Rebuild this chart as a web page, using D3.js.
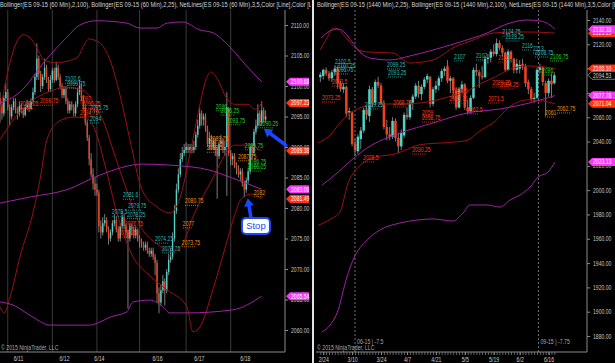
<!DOCTYPE html>
<html>
<head>
<meta charset="utf-8">
<script src="https://cdn.jsdelivr.net/npm/d3@7"></script>
<style>
  body { margin: 0; background: #000; }
  svg { display: block; font-family: "Liberation Sans", Arial, sans-serif; }
</style>
</head>
<body>
<svg width="615" height="363"></svg>
<script>
// ---- left chart: ES 09-15, 60 min bars ----
var leftOpen = [2098,2097,2095.5,2098,2099,2096.5,2095,2096.5,2097.5,2096,
  2095.5,2096.75,2096,2095.25,2096.5,2097,2096.25,2097.5,2099,2101.5,
  2104.5,2102,2100,2101.5,2103,2101,2099.5,2101,2102.5,2101,
  2103,2101.5,2100,2098.5,2099.5,2097.5,2096,2097,2096.5,2095.5,
  2097,2099,2100,2098,2096.5,2094,2091.5,2088,2085.5,2084,
  2083,2082.5,2077,2076,2077.5,2078,2076.5,2075,2076,2077.5,
  2078,2076.5,2075,2077,2078.5,2077,2076,2075,2077,2076.5,
  2075.5,2076.5,2075,2074.5,2074,2073.5,2074,2073,2072.5,2073,
  2072,2071,2066,2064.5,2066.5,2068,2066.5,2069.5,2071.5,2072,
  2075,2079.5,2083,2085.5,2088,2089,2089.5,2090,2089.5,2090,
  2089.5,2090,2092,2093.5,2095.5,2094.5,2095,2093,2090.5,2091.5,
  2090,2091,2089.5,2088.5,2090.5,2091,2089.5,2090,2096.5,2089,
  2088,2088.5,2087,2086.5,2085.5,2086,2084,2083,2084.5,2086,
  2090,2089,2092.5,2093.5,2095.5,2094,2096,2094.5];
var leftHigh = [2099,2097.5,2098.5,2100.5,2099.5,2097,2097,2098,2098,2096.5,
  2097.5,2097.25,2096.5,2097,2097.75,2097.5,2098,2099.75,2102,2107,
  2105,2102.5,2102,2104.5,2103.5,2101.5,2101.75,2103,2103,2104,
  2103.5,2102,2100.5,2100,2100,2098,2097.5,2097.5,2097,2097.5,
  2099.5,2101,2100.5,2098.5,2097,2094.5,2092,2089,2086.5,2085,
  2084,2083,2078,2078.5,2079,2078.5,2077,2076.5,2078,2079,
  2078.5,2077,2077.5,2079.5,2079,2077.5,2076.5,2077.5,2077.5,2077,
  2077,2076.5,2075.5,2075,2074.5,2074.5,2074.5,2073.5,2073.5,2073.5,
  2072.5,2071.5,2067,2067.5,2069,2068.5,2070,2072.5,2073.5,2076,
  2080.5,2084,2086.5,2089,2090,2090.5,2090.75,2090.5,2090.5,2090.5,
  2091,2092.5,2094.5,2096.5,2096,2095.5,2095.5,2093.5,2092.5,2092,
  2091.5,2091.5,2090,2091,2092,2091.5,2091,2099,2096.5,2089.5,
  2089,2089,2087.5,2087,2086.5,2086.5,2084.5,2085,2086.5,2090.5,
  2090.5,2093,2094.5,2097,2096,2097.5,2096.5,2096];
var leftLow = [2094,2094.5,2095,2097.5,2096,2093.5,2094.5,2096,2095.5,2094.5,
  2095,2095.5,2094.75,2095,2096,2095.75,2096,2097,2098.5,2101,
  2101,2099,2099.5,2101,2100.5,2099,2099,2100.5,2100.5,2100.75,
  2101,2099.5,2098,2098,2097,2095.5,2095.5,2096,2095,2095,
  2096.5,2098.5,2097.5,2096,2093.5,2091,2087,2085,2083,2082,
  2082,2076,2075,2075.5,2077,2076,2074,2074.5,2075.5,2077,
  2076,2074.5,2074.5,2076.5,2076.5,2075,2063.5,2074.5,2075.5,2075,
  2075,2074.5,2073.5,2073.5,2073,2073,2072.5,2072,2072,2071.5,
  2069,2064.5,2062.75,2064,2066,2064,2066,2069,2071,2071.5,
  2074.5,2079,2082.5,2085,2087.5,2088.5,2089,2089,2089,2089,
  2089,2089.5,2091.5,2093,2093.5,2093.5,2092.5,2090,2089.5,2089.5,
  2089.5,2088.5,2081.5,2088,2090,2089,2088.5,2082,2088.5,2087,
  2087,2086.5,2085.5,2085,2084.5,2083.5,2081.75,2082.5,2084,2085.5,
  2088,2088.5,2092,2093,2093.5,2093.5,2094,2094];
var leftClose = [2097,2095.5,2098,2099,2096.5,2095,2096.5,2097.5,2096,2095.5,
  2096.75,2096,2095.25,2096.5,2097,2096.25,2097.5,2099,2101.5,2104.5,
  2102,2100,2101.5,2103,2101,2099.5,2101,2102.5,2101,2103,
  2101.5,2100,2098.5,2099.5,2097.5,2096,2097,2096.5,2095.5,2097,
  2099,2100,2098,2096.5,2094,2091.5,2088,2085.5,2084,2083,
  2082.5,2077,2076,2077.5,2078,2076.5,2075,2076,2077.5,2078,
  2076.5,2075,2077,2078.5,2077,2076,2075,2077,2076.5,2075.5,
  2076.5,2075,2074.5,2074,2073.5,2074,2073,2072.5,2073,2072,
  2071,2066,2064.5,2066.5,2068,2066.5,2069.5,2071.5,2072,2075,
  2079.5,2083,2085.5,2088,2089,2089.5,2090,2089.5,2090,2089.5,
  2090,2092,2093.5,2095.5,2094.5,2095,2093,2090.5,2091.5,2090,
  2091,2089.5,2088.5,2090.5,2091,2089.5,2090,2096.5,2089,2088,
  2088.5,2087,2086.5,2085.5,2086,2084,2083,2084.5,2086,2090,
  2089,2092.5,2093.5,2095.5,2094,2096,2094.5,2095];

var leftSessions = [4, 27, 50, 72, 96, 119];
var leftDateTicks = [9.3, 33, 51, 81, 102.6, 126.3];
var leftDateLabels = ["6/11", "6/12", "6/14", "6/16", "6/17", "6/18"];
var leftPriceTicks = [2060, 2065, 2070, 2075, 2080, 2085, 2090, 2095, 2100, 2105, 2110];

// Bollinger(2,100) – purple
var leftSlowUpper = [[0,2097.2],[10.3,2099],[23.2,2104.1],[34.5,2108],[41.2,2110],[50,2110.7],[65.5,2110.3],[72.2,2109.5],[81,2109.5],[86,2110.3],[94.3,2110.5],[103,2109.2],[110,2108.7],[120,2105.9],[126.3,2103.6],[135,2100.68]];
var leftSlowMid = [[0,2080.8],[15.5,2081.8],[34.5,2083],[51.5,2085.4],[73.7,2087.2],[89.2,2087],[108.2,2086.2],[120,2084.9],[135,2083.06]];
var leftSlowLower = [[0,2064.6],[6.7,2064.1],[17,2062.1],[25.8,2060.8],[46.4,2060.8],[51.5,2061.3],[56.7,2062.1],[65.5,2063],[68.6,2064.6],[77.3,2064.9],[84,2063.8],[87.6,2062.8],[96.4,2062.8],[120,2063.3],[135,2065.54]];
// Bollinger(2,25) – dark red
var leftFastUpper = [[0,2095.7],[2.6,2100.2],[5.2,2103.9],[8.3,2107],[11.9,2108.4],[15.5,2107.9],[19.1,2106.2],[22.7,2104.3],[28.4,2103.8],[35,2104.1],[40.2,2104.8],[43.3,2106.7],[45.9,2107.7],[49,2107.5],[52.1,2106.9],[56.7,2104.3],[61.9,2098.5],[67,2091.2],[73.2,2083],[80.9,2080.2],[87.6,2079.2],[92.8,2081.6],[97.9,2088.7],[103.1,2096.9],[106.2,2101],[108.8,2102.3],[112.4,2101],[116.5,2098.2],[121.1,2097],[127.8,2097],[131.4,2096.2],[135,2097.23]];
var leftFastMid = [[0,2091.2],[7.7,2094.8],[17,2097.7],[27.3,2099.3],[34.5,2099.8],[42.8,2099.3],[49,2096.9],[54.1,2093.6],[58.3,2089.5],[64.4,2083.8],[72.2,2077.2],[82,2073.9],[88.7,2072.8],[93.8,2073.9],[100,2078.9],[109.8,2084.9],[116,2088.7],[121.1,2090.3],[127.8,2090.3],[135,2089.38]];
var leftFastLower = [[0,2063.8],[2.1,2062.8],[5.2,2065.4],[10.3,2072],[17,2079.2],[20.6,2084.6],[24.2,2091.2],[29.9,2094.1],[37.1,2094.9],[43.8,2094.8],[49,2092.8],[54.1,2087.1],[60.3,2079.2],[68.6,2072],[75.8,2069.3],[86.1,2066.6],[96.4,2063.8],[99.5,2059.7],[103.1,2060.5],[109.8,2066.6],[116.5,2073.9],[121.1,2078.9],[124.7,2081.6],[129.9,2082.3],[135,2081.49]];

var leftTags = [[2100.68,"p"],[2097.23,"r"],[2089.38,"r"],[2083.06,"p"],[2081.49,"r"],[2065.54,"p"]];

var leftNotes = [
  [33.5,2101.1,"2100.6","c"],[34.5,2100.3,"2099.75","c"],[10.3,2097,"2098.25","r"],[20.6,2097.5,"2098.75","r"],
  [41.2,2097.9,"2097","r"],[42.3,2097,"2096.25","r"],[41.2,2095.6,"2094.75","r"],[46.4,2096.4,"2095.75","c"],[46.4,2094.6,"2094","c"],
  [111.3,2096.6,"2096","g"],[113.9,2095.9,"2096.25","g"],[117,2094.3,"2093.75","g"],[134,2093.8,"2090.25","g"],
  [108.2,2091.3,"2089.75","o"],[106.7,2089.8,"2088.5","o"],[126.3,2090.2,"2089.75","g"],[122.7,2088.4,"2087.75","o"],
  [127.8,2087.5,"2086.75","g"],[127.8,2086.7,"2086.25","g"],
  [63.4,2082.1,"2081.6","c"],[66,2080.3,"2079.75","c"],[57.7,2079.3,"2078.5","c"],[65.5,2078.9,"2078.25","c"],
  [64.4,2077.4,"2076.75","r"],[60.8,2075.9,"2076.25","r"],[79.9,2074.9,"2074.25","c"],[83.5,2073.3,"2073.75","c"],
  [95.4,2081.1,"2080.75","o"],[94.3,2077.4,"2077","o"],[93.8,2074.3,"2073.75","o"],[130.9,2082.5,"2082","o"]
];
var leftArrows = [[[147.4,2090.3],[136.1,2093.0]], [[129.4,2078.5],[127.8,2081.6]]];
var leftStop = [132, 2077.05];

// ---- right chart: ES 09-15, daily bars (index 0 = 2/24) ----
var rightFirst = -1;
var rightOpen = [2093,2094,2099,2096,2092,2097,2100,2088,2083,2085,
  2064,2064,2038,2032,2042,2049,2066,2061,2083,2072,
  2089,2086,2072,2052,2046,2044,2057,2043,2036,2045,
  2062,2060,2072,2077,2086,2079,2085,2091,2093,2071,
  2083,2086,2092,2098,2102,2090,2092,2082,2068,2083,
  2087,2068,2065,2076,2099,2097,2094,2093,2108,2109,
  2114,2112,2121,2117,2113,2099,2114,2108,2099,2100,
  2104,2102,2089,2083,2075,2076,2099,2101,2088,2080,
  2090,2088];
var rightHigh = [2097,2100,2101,2098,2099,2102.5,2101,2090,2088,2086,
  2068,2065,2042,2046,2052,2068,2069,2086,2085,2091,
  2093.25,2088,2074,2058,2052,2060,2059,2047,2050,2064,
  2068,2074,2079,2088,2090,2087,2093,2096,2094,2085,
  2090,2094,2100,2102,2107,2094,2093,2085,2085,2090,
  2088,2074,2078,2101,2104,2099,2102,2110,2112,2116,
  2120,2124.75,2123.25,2119,2114,2116,2115,2109,2108,2107,
  2108,2104,2091,2085,2080,2101,2104,2102,2090,2092,
  2096,2097];
var rightLow = [2089,2091,2094,2090,2089,2094,2083.5,2081,2080,2060,
  2058,2036,2028.5,2030,2034,2047,2058,2056,2068,2070,
  2084,2070,2050,2041,2041,2042,2040,2030.25,2033,2043,
  2058,2058,2066,2075,2076,2074,2083,2088,2068,2069,
  2080,2082,2089,2094,2088,2080,2075,2066,2067,2080,
  2066,2062.5,2063,2075,2094,2084.25,2091,2092,2104,2105,
  2110,2110,2115,2110,2097,2098,2105,2096,2096,2096,
  2099,2085,2079,2073,2072,2075,2096,2086,2061,2077,
  2076,2087];
var rightClose = [2095,2099,2096,2092,2097,2100,2088,2083,2085,2063,
  2065,2038,2033,2044,2049,2066,2062,2083,2072,2089,
  2086,2072,2052,2046,2044,2057,2043,2036,2047,2062,
  2060,2072,2077,2086,2079,2085,2091,2094,2071,2083,
  2086,2092,2098,2100,2090,2092,2082,2068,2083,2087,
  2068,2065,2076,2099,2097,2094,2093,2108,2109,2114,
  2112,2121,2117,2113,2099,2114,2108,2099,2104,2103,
  2102,2088,2083,2075,2076,2099,2101,2089,2080,2090,
  2087,2094.53];

var rightDateTicks = [0, 10, 20, 29, 39, 49, 59, 68, 78];
var rightDateLabels = ["2/24", "3/10", "3/24", "4/7", "4/21", "5/5", "5/19", "6/2", "6/16"];
var rightPriceTicks = [1880, 1900, 1920, 1940, 1960, 1980, 2000, 2020, 2040, 2060, 2080, 2100, 2120, 2140];
var rightRolls = [[11, "06-15 | -7.5"], [74.5, "09-15 | -7.75"]];

var rightSlowUpper = [[-0.8,2125.2],[2.4,2131],[5.1,2132.6],[7.6,2129.3],[10,2121.9],[12.7,2113.7],[16.2,2108.7],[23.1,2107.1],[30,2110.4],[38,2115.3],[46.3,2121.1],[56.7,2129.3],[63.6,2136.7],[70.5,2140],[75,2139.2],[78.5,2135.9],[80.2,2132.33]];
var rightSlowMid = [[-0.4,2004.2],[4.8,2014.1],[8.6,2022.3],[15.2,2034.7],[26.6,2047],[38,2055.3],[49.8,2063.5],[61.2,2066.8],[72.6,2072.5],[80.2,2077.78]];
var rightSlowLower = [[-0.4,1883.3],[2.4,1889.1],[4.8,1898.9],[8.2,1928.5],[10.3,1942.5],[15.2,1959],[19.6,1967.2],[26.6,1973],[32.4,1975.4],[38,1976.3],[44.9,1974.6],[48.4,1981.2],[50.8,1987.8],[56.7,1987.8],[61.2,1986.1],[64.7,1991.9],[68.1,1996],[71.6,2002.6],[74.4,2010.8],[77.8,2014.9],[80.2,2023.13]];
var rightFastUpper = [[-1.1,2115.3],[1.3,2125.2],[3.4,2133.4],[5.1,2132.6],[6.5,2129.3],[8.6,2123.5],[11,2117],[15.2,2113.7],[24.2,2112.8],[30,2104.6],[38,2107.1],[44.9,2117],[51.9,2123.5],[58.8,2129.3],[65.7,2130.1],[72.6,2130.1],[80.2,2129.19]];
var rightFastMid = [[-1.8,2038.8],[2.4,2045.4],[5.8,2055.3],[9.3,2063.5],[12.7,2067.6],[17.9,2070.9],[24.9,2070.9],[33.5,2071.7],[43.2,2076.6],[49.1,2080.8],[55,2088.2],[59.5,2093.1],[64,2098.9],[70.9,2102.2],[76.8,2101.3],[80.2,2100.1]];
var rightFastLower = [[-1.8,1971],[2.4,1976],[5.8,1982],[8.6,2006],[11,2016],[13,2021],[17.9,2027],[24.9,2029.8],[33.5,2037.4],[43.2,2039.2],[49.1,2040.6],[55,2050],[59.5,2056.7],[64,2067.7],[70.9,2074.3],[76.8,2073.1],[80.2,2071.04]];

var rightTags = [[2129.19,"r"],[2132.33,"p"],[2100.10,"r"],[2094.53,"k"],[2077.78,"p"],[2071.04,"r"],[2023.13,"p"]];

var rightNotes = [
  [4.1,2105.4,"2102.5","c"],[4.8,2102.2,"2100.25","c"],[4.1,2098.9,"2095.75","c"],[3,2089,"2083.5","r"],[-0.4,2075.8,"2073.25","r"],
  [22.1,2103,"2099.25","c"],[22.4,2096.4,"2093.25","c"],[14.4,2070.1,"2069.25","c"],[24.2,2071.7,"2068.75","r"],
  [34.2,2063.5,"2059","r"],[34.2,2059.4,"2058.75","r"],[30.8,2033,"2030.25","r"],[13.8,2026.5,"2028.5","r"],
  [45.3,2109.6,"2107","c"],[52.9,2110.4,"2102","c"],[44.6,2081.6,"2084.5","r"],[43.6,2075,"2083.75","r"],
  [49.8,2066,"2062.5","r"],[57.1,2075,"2071.5","r"],[58.5,2088.2,"2089.25","r"],[61.3,2086.5,"2084.25","r"],[60.6,2108.7,"2105","r"],
  [62,2130.1,"2124.75","c"],[63.1,2126,"2123.25","c"],[68.8,2118.6,"2116","c"],[72.6,2116.1,"2113","c"],[73.3,2112.8,"2108.75","c"],
  [78.5,2109.6,"2106.75","g"],[75.7,2098,"2096","g"],[80.9,2066.8,"2062.75","o"],[76.8,2063.5,"2061","o"]
];

var leftTitle = "Bollinger(ES 09-15 (60 Min),2,100), Bollinger(ES 09-15 (60 Min),2,25), NetLines(ES 09-15 (60 Min),3,5,Color [Line],Color [L";
var rightTitle = "Bollinger(ES 09-15 (1440 Min),2,25), Bollinger(ES 09-15 (1440 Min),2,100), NetLines(ES 09-15 (1440 Min),3,5,Color [L";

// ---- drawing ----
var UP = "#4fd3c6", DOWN = "#f2411f", WICK = "#9a9a9a";
var BAND_RED = "#9c1010", BAND_PURPLE = "#9e22a2";
var noteColor = {c: "#2fb8b0", r: "#ff3a1c", o: "#e8921a", g: "#22d022"};
var tagFill = {p: "#f23cf2", r: "#ff3410", k: "#000"};
var AXIS_TXT = "#c8c8c8", AXIS_LINE = "#8a8a8a";

var svg = d3.select("svg");
svg.append("rect").attr("width", 615).attr("height", 363).attr("fill", "#000");

var defs = svg.append("defs");
defs.append("clipPath").attr("id", "clipL").append("rect").attr("x", 0).attr("y", 10).attr("width", 285).attr("height", 342);
defs.append("clipPath").attr("id", "clipR").append("rect").attr("x", 316).attr("y", 10).attr("width", 271).attr("height", 342);
defs.append("clipPath").attr("id", "clipTL").append("rect").attr("x", 0).attr("y", 0).attr("width", 311).attr("height", 10);
defs.append("clipPath").attr("id", "clipTR").append("rect").attr("x", 316).attr("y", 0).attr("width", 299).attr("height", 10);

function squeeze(sel, k) {
  sel.each(function () {
    var w = this.getComputedTextLength();
    d3.select(this).attr("textLength", w * k).attr("lengthAdjust", "spacingAndGlyphs");
  });
}

var lx = d3.scaleLinear().domain([0, 147]).range([0, 285]);
var ly = d3.scaleLinear().domain([2060, 2110]).range([330, 25]);
var rx = d3.scaleLinear().domain([-2.5, 91.3]).range([316, 587]);
var ry = d3.scaleLinear().domain([1880, 2140]).range([336, 20]);

function drawPanel(o) {
  var x = o.x, y = o.y;
  var plot = svg.append("g").attr("clip-path", "url(#" + o.clip + ")");

  // candles
  var bars = plot.append("g");
  o.close.forEach(function (c, k) {
    var i = k + o.first, op = o.open[k];
    var col = c >= op ? UP : DOWN;
    bars.append("line").attr("x1", x(i)).attr("x2", x(i))
      .attr("y1", y(o.high[k])).attr("y2", y(o.low[k]))
      .attr("stroke", WICK).attr("stroke-width", 0.8);
    var top = y(Math.max(op, c)), bot = y(Math.min(op, c));
    bars.append("rect").attr("x", x(i) - o.bw / 2).attr("y", top)
      .attr("width", o.bw).attr("height", Math.max(1, bot - top)).attr("fill", col);
  });

  // bollinger lines
  var line = d3.line().x(function (d) { return x(d[0]); }).y(function (d) { return y(d[1]); }).curve(d3.curveMonotoneX);
  o.red.forEach(function (b) {
    plot.append("path").attr("d", line(b)).attr("fill", "none").attr("stroke", BAND_RED).attr("stroke-width", 1);
  });
  o.purple.forEach(function (b) {
    plot.append("path").attr("d", line(b)).attr("fill", "none").attr("stroke", BAND_PURPLE).attr("stroke-width", 1);
  });

  // netline labels
  o.notes.forEach(function (n) {
    var t = plot.append("text").attr("x", x(n[0])).attr("y", y(n[1]) + 2)
      .attr("font-size", 6.5).attr("fill", noteColor[n[3]]).text(n[2]);
    squeeze(t, 0.78);
    var w = t.node().getComputedTextLength() * 0.78;
    plot.append("line").attr("x1", x(n[0])).attr("x2", x(n[0]) + w)
      .attr("y1", y(n[1]) + 4).attr("y2", y(n[1]) + 4)
      .attr("stroke", noteColor[n[3]]).attr("stroke-width", 0.8).attr("stroke-dasharray", "1,1");
  });

  // axes
  svg.append("line").attr("x1", o.right).attr("x2", o.right).attr("y1", 10).attr("y2", 352).attr("stroke", AXIS_LINE);
  svg.append("line").attr("x1", o.left).attr("x2", o.right).attr("y1", 352).attr("y2", 352).attr("stroke", AXIS_LINE);

  var ya = svg.append("g").attr("transform", "translate(" + o.right + ",0)")
    .call(d3.axisRight(y).tickValues(o.priceTicks).tickSize(3).tickPadding(3).tickFormat(d3.format(".2f")));
  ya.select(".domain").remove();
  ya.selectAll("line").attr("stroke", AXIS_LINE);
  ya.selectAll("text").attr("fill", AXIS_TXT).attr("font-size", 6.5).attr("font-family", null);
  squeeze(ya.selectAll("text"), 0.78);

  // price tags
  o.tags.forEach(function (tg) {
    var ty = y(tg[0]), tx = o.right + 1, w = o.tagW, h = 8;
    svg.append("path")
      .attr("d", "M" + tx + "," + ty + " L" + (tx + 4) + "," + (ty - h / 2) + " L" + (tx + w) + "," + (ty - h / 2) +
        " L" + (tx + w) + "," + (ty + h / 2) + " L" + (tx + 4) + "," + (ty + h / 2) + " Z")
      .attr("fill", tagFill[tg[1]]).attr("stroke", tg[1] === "k" ? "#9a9a9a" : "none").attr("stroke-width", 0.8);
    var t = svg.append("text").attr("x", tx + 5).attr("y", ty + 2.3).attr("font-size", 6.5)
      .attr("fill", tg[1] === "k" ? "#d0d0d0" : "#fff").text(tg[0].toFixed(2));
    squeeze(t, 0.78);
  });

  // title
  var tt = svg.append("text").attr("clip-path", "url(#" + o.titleClip + ")")
    .attr("x", o.titleX).attr("y", 7).attr("font-size", 7).attr("fill", "#d4d4d4").text(o.title);
  tt.attr("textLength", o.titleW).attr("lengthAdjust", "spacingAndGlyphs");

  // copyright
  var cp = svg.append("text").attr("x", o.left + 1).attr("y", 350).attr("font-size", 6.5)
    .attr("fill", "#a8a8a8").text("\u00a9 2015 NinjaTrader, LLC");
  squeeze(cp, 0.8);
}

// session separators on the intraday chart
leftSessions.forEach(function (s) {
  svg.append("line").attr("x1", lx(s)).attr("x2", lx(s)).attr("y1", 10).attr("y2", 352)
    .attr("stroke", "#3a3a3a").attr("stroke-width", 1);
});
// contract roll lines on the daily chart
rightRolls.forEach(function (r) {
  svg.append("line").attr("x1", rx(r[0])).attr("x2", rx(r[0])).attr("y1", 10).attr("y2", 352)
    .attr("stroke", "#8a8a8a").attr("stroke-width", 0.8).attr("stroke-dasharray", "2,2");
  var t = svg.append("text").attr("x", rx(r[0]) + 2).attr("y", 344).attr("font-size", 6.5)
    .attr("fill", "#a8a8a8").text(r[1]);
  squeeze(t, 0.8);
});

drawPanel({
  x: lx, y: ly, clip: "clipL", left: 0, right: 285, first: 0, bw: 1.4,
  open: leftOpen, high: leftHigh, low: leftLow, close: leftClose,
  red: [leftFastUpper, leftFastMid, leftFastLower],
  purple: [leftSlowUpper, leftSlowMid, leftSlowLower],
  notes: leftNotes, priceTicks: leftPriceTicks, tags: leftTags, tagW: 23,
  title: leftTitle, titleX: 0, titleW: 312, titleClip: "clipTL"
});
drawPanel({
  x: rx, y: ry, clip: "clipR", left: 316, right: 587, first: rightFirst, bw: 2.5,
  open: rightOpen, high: rightHigh, low: rightLow, close: rightClose,
  red: [rightFastUpper, rightFastMid, rightFastLower],
  purple: [rightSlowUpper, rightSlowMid, rightSlowLower],
  notes: rightNotes, priceTicks: rightPriceTicks, tags: rightTags, tagW: 28,
  title: rightTitle, titleX: 317, titleW: 300, titleClip: "clipTR"
});

// date axes
var lxa = svg.append("g").attr("transform", "translate(0,352)")
  .call(d3.axisBottom(lx).tickValues(leftDateTicks).tickSize(0).tickPadding(4)
    .tickFormat(function (d, i) { return leftDateLabels[i]; }));
lxa.select(".domain").remove();
lxa.selectAll("text").attr("fill", AXIS_TXT).attr("font-size", 6.5).attr("font-family", null);
squeeze(lxa.selectAll("text"), 0.8);

var rightBarIdx = rightClose.map(function (c, k) { return k + rightFirst; });
var rmin = svg.append("g").attr("transform", "translate(0,352)")
  .call(d3.axisBottom(rx).tickValues(rightBarIdx).tickSize(3).tickFormat(""));
rmin.select(".domain").remove();
rmin.selectAll("line").attr("stroke", AXIS_LINE).attr("stroke-width", 0.7);
var rxa = svg.append("g").attr("transform", "translate(0,352)")
  .call(d3.axisBottom(rx).tickValues(rightDateTicks).tickSize(3).tickPadding(2)
    .tickFormat(function (d, i) { return rightDateLabels[i]; }));
rxa.select(".domain").remove();
rxa.selectAll("line").attr("stroke", AXIS_LINE);
rxa.selectAll("text").attr("fill", AXIS_TXT).attr("font-size", 6.5).attr("font-family", null);
squeeze(rxa.selectAll("text"), 0.8);

// panel separator
svg.append("line").attr("x1", 313).attr("x2", 313).attr("y1", 0).attr("y2", 363)
  .attr("stroke", "#e2e2e2").attr("stroke-width", 2);

// hand-drawn annotations: arrows and the Stop callout
function arrow(x1, y1, x2, y2) {
  var a = Math.atan2(y2 - y1, x2 - x1), L = 8, W = 5;
  var bx = x2 - L * Math.cos(a), by = y2 - L * Math.sin(a);
  svg.append("line").attr("x1", x1).attr("y1", y1).attr("x2", bx).attr("y2", by)
    .attr("stroke", "#1a46ff").attr("stroke-width", 3.5).attr("stroke-linecap", "round");
  svg.append("path")
    .attr("d", "M" + x2 + "," + y2 + " L" + (bx + W * Math.sin(a)) + "," + (by - W * Math.cos(a)) +
      " L" + (bx - W * Math.sin(a)) + "," + (by + W * Math.cos(a)) + " Z")
    .attr("fill", "#1a46ff");
}
leftArrows.forEach(function (a) {
  arrow(lx(a[0][0]), ly(a[0][1]), lx(a[1][0]), ly(a[1][1]));
});
var sx = lx(leftStop[0]), sy = ly(leftStop[1]);
svg.append("rect").attr("x", sx - 14).attr("y", sy - 8).attr("width", 28).attr("height", 16).attr("rx", 4)
  .attr("fill", "#fff").attr("stroke", "#1a46ff").attr("stroke-width", 2);
svg.append("text").attr("x", sx).attr("y", sy + 3.3).attr("text-anchor", "middle")
  .attr("font-size", 9.5).attr("fill", "#1a46ff").text("Stop");
</script>
</body>
</html>
